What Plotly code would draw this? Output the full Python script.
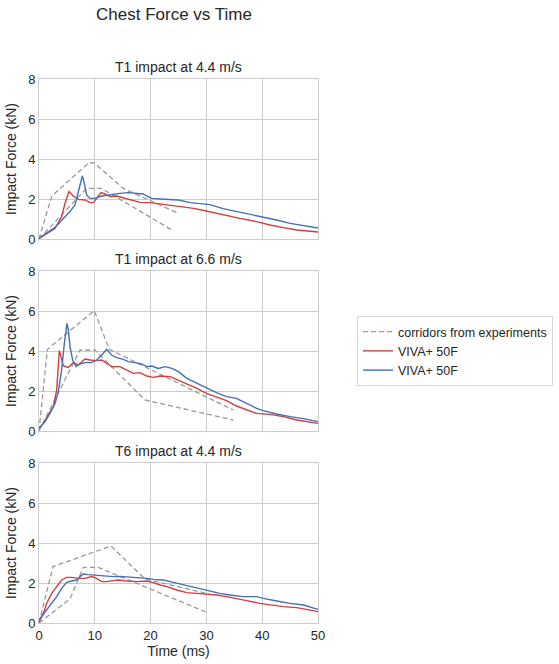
import plotly.graph_objects as go
from plotly.subplots import make_subplots

panel_titles = ["T1 impact at 4.4 m/s", "T1 impact at 6.6 m/s", "T6 impact at 4.4 m/s"]

# ---- Panel 1: T1 at 4.4 m/s ----
p1_upper_t = [0, 2.3, 9.0, 9.9, 15.1, 25.0]
p1_upper_f = [0, 2.15, 3.83, 3.8, 2.53, 1.28]
p1_lower_t = [0, 8.5, 11.2, 24.0]
p1_lower_f = [0, 2.53, 2.53, 0.42]
p1_red_t = [0, 1.37, 2.87, 4.06, 4.66, 5.38, 6.15, 7.05, 8.24, 9.14, 9.74, 10.33, 11.11, 11.83, 12.72, 13.92,
            14.81, 16.3, 18.1, 19.9, 22.3, 24.1, 25.9, 27.7, 30.0, 31.8, 34.2, 36.0, 39.0, 41.4, 43.8, 46.2, 50.0]
p1_red_f = [0.03, 0.28, 0.53, 1.12, 1.78, 2.37, 2.15, 1.98, 1.95, 1.82, 1.82, 2.03, 2.32, 2.25, 2.12, 2.15,
            2.08, 1.95, 1.83, 1.82, 1.73, 1.68, 1.58, 1.53, 1.4, 1.28, 1.12, 1.03, 0.87, 0.7, 0.57, 0.45, 0.35]
p1_blue_t = [0, 1.37, 2.87, 4.36, 5.56, 6.45, 6.93, 7.35, 7.77, 8.12, 8.54, 9.14, 10.04, 11.23, 12.72, 14.5,
             16.0, 17.5, 18.7, 19.3, 20.2, 21.7, 23.5, 25.0, 27.1, 28.3, 30.6, 33.0, 35.4, 37.8, 40.2, 42.6,
             45.0, 47.4, 50.0]
p1_blue_f = [0.03, 0.28, 0.58, 1.03, 1.37, 1.7, 2.2, 2.78, 3.15, 2.78, 2.2, 2.03, 2.03, 2.15, 2.22, 2.28,
             2.32, 2.28, 2.25, 2.15, 2.03, 2.0, 1.98, 1.95, 1.82, 1.78, 1.72, 1.52, 1.38, 1.25, 1.12, 0.95,
             0.78, 0.67, 0.55]

# ---- Panel 2: T1 at 6.6 m/s ----
p2_upper_t = [0, 1.5, 9.9, 12.6, 34.8]
p2_upper_f = [0, 4.08, 6.02, 4.08, 1.05]
p2_lower_t = [0, 7.35, 10.0, 19.0, 34.8]
p2_lower_f = [0, 4.05, 4.05, 1.55, 0.55]
p2_red_t = [0, 0.78, 1.67, 2.57, 3.17, 3.46, 3.64, 3.94, 4.36, 5.26, 6.15, 7.05, 8.24, 9.14, 10.33, 11.23,
            12.13, 13.0, 14.5, 15.7, 16.9, 18.1, 19.3, 20.5, 21.7, 23.5, 24.7, 26.5, 28.3, 30.0, 31.8, 33.6,
            35.4, 37.2, 39.0, 41.4, 43.8, 46.2, 50.0]
p2_red_f = [0.13, 0.38, 0.8, 1.22, 2.05, 3.38, 4.02, 3.72, 3.25, 3.18, 3.42, 3.3, 3.6, 3.55, 3.52, 3.55,
            3.38, 3.22, 3.22, 3.05, 2.88, 2.92, 2.75, 2.68, 2.75, 2.72, 2.58, 2.38, 2.13, 1.88, 1.68, 1.52,
            1.25, 1.05, 0.88, 0.83, 0.72, 0.55, 0.38]
p2_blue_t = [0, 1.08, 1.97, 2.87, 3.46, 4.06, 4.54, 4.84, 5.02, 5.26, 5.56, 6.03, 6.63, 7.35, 8.24, 9.44,
             10.33, 11.23, 12.13, 13.0, 13.9, 15.1, 16.0, 17.2, 18.4, 19.3, 20.2, 21.4, 22.6, 23.8, 25.0,
             26.5, 28.3, 30.0, 31.8, 33.6, 35.4, 37.2, 39.0, 40.2, 42.6, 45.0, 47.4, 50.0]
p2_blue_f = [0.13, 0.47, 0.88, 1.38, 1.97, 3.05, 4.38, 5.13, 5.38, 5.05, 4.22, 3.55, 3.22, 3.35, 3.42, 3.42,
             3.55, 3.8, 4.08, 3.8, 3.67, 3.58, 3.47, 3.42, 3.35, 3.22, 3.25, 3.13, 3.22, 3.13, 2.97,
             2.63, 2.38, 2.13, 1.92, 1.72, 1.63, 1.38, 1.13, 1.02, 0.85, 0.72, 0.62, 0.47]

# ---- Panel 3: T6 at 4.4 m/s ----
p3_upper_t = [0, 2.5, 12.9, 19.0, 30.5]
p3_upper_f = [0, 2.82, 3.85, 2.2, 1.45]
p3_lower_t = [0, 5.56, 7.95, 10.6, 29.9]
p3_lower_f = [0, 1.2, 2.78, 2.78, 0.55]
p3_red_t = [0, 0.78, 1.37, 2.27, 3.17, 4.06, 4.96, 5.85, 7.05, 8.24, 9.44, 10.33, 11.23, 12.13, 13.3, 14.2,
            15.7, 17.5, 19.3, 20.5, 21.7, 22.9, 24.7, 26.5, 28.3, 30.0, 31.8, 33.6, 35.4, 37.2, 39.6, 41.4,
            43.8, 46.2, 48.0, 50.0]
p3_red_f = [0.03, 0.48, 0.98, 1.48, 1.82, 2.15, 2.28, 2.28, 2.23, 2.23, 2.32, 2.23, 2.07, 2.07, 2.12, 2.15,
            2.1, 2.07, 2.1, 2.02, 1.9, 1.82, 1.65, 1.52, 1.48, 1.45, 1.4, 1.32, 1.23, 1.12, 0.98, 0.9,
            0.82, 0.77, 0.68, 0.57]
p3_blue_t = [0, 1.08, 2.27, 3.17, 4.06, 4.96, 5.85, 6.75, 7.35, 7.95, 8.84, 9.74, 10.93, 12.13, 13.3, 14.5,
             16.3, 18.1, 19.3, 20.5, 22.3, 23.5, 25.3, 27.1, 28.9, 30.6, 32.4, 34.2, 36.6, 39.0, 40.2, 42.6,
             45.0, 47.4, 50.0]
p3_blue_f = [0.15, 0.57, 0.98, 1.32, 1.73, 2.03, 2.1, 2.15, 2.32, 2.45, 2.42, 2.4, 2.37, 2.32, 2.32, 2.33,
             2.3, 2.28, 2.23, 2.18, 2.15, 2.07, 1.95, 1.82, 1.68, 1.57, 1.48, 1.4, 1.32, 1.32, 1.23, 1.1,
             0.98, 0.9, 0.68]

x_ticks = [0, 10, 20, 30, 40, 50]
y_ticks = [0, 2, 4, 6, 8]

GRAY = "#999999"
RED = "#d43d3d"
BLUE = "#4470b5"
TEXT = "#262626"
FONT = "Liberation Sans, Arial, sans-serif"
DASH = "5px,3px"

panels = [
    (p1_upper_t, p1_upper_f, p1_lower_t, p1_lower_f, p1_red_t, p1_red_f, p1_blue_t, p1_blue_f),
    (p2_upper_t, p2_upper_f, p2_lower_t, p2_lower_f, p2_red_t, p2_red_f, p2_blue_t, p2_blue_f),
    (p3_upper_t, p3_upper_f, p3_lower_t, p3_lower_f, p3_red_t, p3_red_f, p3_blue_t, p3_blue_f),
]

fig = make_subplots(rows=3, cols=1, shared_xaxes=False, vertical_spacing=32 / 544)

for i, (ut, uf, lt, lf, rt, rf, bt, bf) in enumerate(panels):
    row = i + 1
    first = i == 0
    fig.add_trace(go.Scatter(x=ut, y=uf, mode="lines", name="corridors from experiments",
                             line=dict(color=GRAY, width=1.3, dash=DASH), legendgroup="c",
                             showlegend=first), row=row, col=1)
    fig.add_trace(go.Scatter(x=lt, y=lf, mode="lines", name="corridors from experiments",
                             line=dict(color=GRAY, width=1.3, dash=DASH), legendgroup="c",
                             showlegend=False), row=row, col=1)
    fig.add_trace(go.Scatter(x=rt, y=rf, mode="lines", name="VIVA+ 50F",
                             line=dict(color=RED, width=1.4), legendgroup="r",
                             showlegend=first), row=row, col=1)
    fig.add_trace(go.Scatter(x=bt, y=bf, mode="lines", name="VIVA+ 50F",
                             line=dict(color=BLUE, width=1.4), legendgroup="b",
                             showlegend=first), row=row, col=1)
    fig.update_xaxes(row=row, col=1, range=[0, 50], tickvals=x_ticks, showticklabels=(row == 3),
                     showgrid=True, gridcolor="#cccccc", gridwidth=1, showline=True, mirror=True,
                     linecolor="#cccccc", linewidth=1, zeroline=False, ticks="",
                     tickfont=dict(size=13, color=TEXT))
    fig.update_yaxes(row=row, col=1, range=[0, 8], tickvals=y_ticks,
                     showgrid=True, gridcolor="#cccccc", gridwidth=1, showline=True, mirror=True,
                     linecolor="#cccccc", linewidth=1, zeroline=False, ticks="",
                     tickfont=dict(size=13, color=TEXT),
                     title=dict(text="Impact Force (kN)", font=dict(size=14, color=TEXT), standoff=8))

fig.update_xaxes(row=3, col=1, title=dict(text="Time (ms)", font=dict(size=14, color=TEXT), standoff=2))

# subplot titles
tops = [1.0, 352 / 544, 160 / 544]
for t, ytop in zip(panel_titles, tops):
    fig.add_annotation(text=t, x=0.5, xref="paper", y=ytop, yref="paper", yshift=2,
                       xanchor="center", yanchor="bottom", showarrow=False,
                       font=dict(size=14, color=TEXT))

fig.update_layout(
    width=559, height=664,
    margin=dict(l=39, r=241, t=79, b=41, autoexpand=False),
    paper_bgcolor="white", plot_bgcolor="white",
    font=dict(family=FONT, color=TEXT, size=13),
    title=dict(text="Chest Force vs Time", x=174 / 559, xanchor="center", y=1 - 14 / 664, yanchor="middle",
               font=dict(size=17, color=TEXT)),
    legend=dict(x=(357 - 39) / 279, xanchor="left", y=0.5, yanchor="middle",
                bordercolor="#d9d9d9", borderwidth=1, bgcolor="white",
                font=dict(size=12.5, color=TEXT), tracegroupgap=0, itemwidth=30),
)

fig.write_html("out.html")
